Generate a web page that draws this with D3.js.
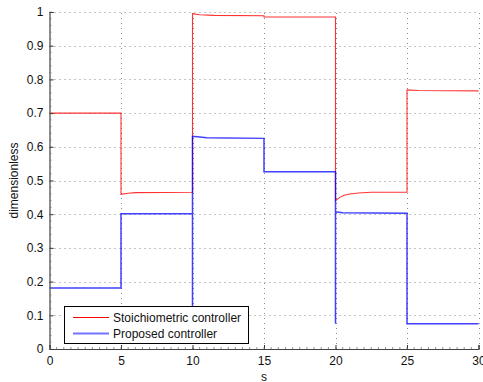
<!DOCTYPE html>
<html>
<head>
<meta charset="utf-8">
<script src="https://cdn.jsdelivr.net/npm/d3@7"></script>
<style>
  html, body { margin: 0; padding: 0; background: #fff; }
  svg { display: block; font-family: "Liberation Sans", Arial, Helvetica, sans-serif; }
</style>
</head>
<body>
<svg id="chart" width="483" height="382"></svg>
<script>
// Controller output over time (s)
const stoichTime  = [0, 5, 5, 5.5, 6, 10, 10, 10.5, 11.5, 15, 15, 20, 20, 20.3, 20.6, 21, 21.6, 22.5, 25, 25, 25.8, 30];
const stoichValue = [0.70, 0.70, 0.459, 0.462, 0.464, 0.465, 0.995, 0.992, 0.990, 0.989, 0.985, 0.985, 0.44, 0.450, 0.456, 0.460, 0.463, 0.465, 0.465, 0.769, 0.767, 0.766];

const proposedTime  = [0, 5, 5, 10, 10, 10, 10.5, 11, 15, 15, 20, 20, 20, 20.5, 25, 25, 30];
const proposedValue = [0.181, 0.181, 0.401, 0.401, 0.07, 0.631, 0.629, 0.627, 0.625, 0.526, 0.526, 0.075, 0.407, 0.404, 0.403, 0.075, 0.075];

const xTicks = [0, 5, 10, 15, 20, 25, 30];
const yTicks = [0, 0.1, 0.2, 0.3, 0.4, 0.5, 0.6, 0.7, 0.8, 0.9, 1];
const seriesNames = ["Stoichiometric controller", "Proposed controller"];

const svg = d3.select("#chart");
const plotLeft = 49.5, plotRight = 478.5, plotTop = 12, plotBottom = 349;

const x = d3.scaleLinear().domain([0, 30]).range([plotLeft, plotRight]);
const y = d3.scaleLinear().domain([0, 1]).range([plotBottom, plotTop]);

// dotted grid
const grid = svg.append("g").attr("stroke", "#8a8a8a").attr("stroke-width", 1)
  .attr("stroke-dasharray", "1,4");
grid.selectAll("line.gx").data(xTicks.slice(1)).join("line")
  .attr("x1", d => Math.round(x(d)) + 0.5).attr("x2", d => Math.round(x(d)) + 0.5)
  .attr("y1", plotBottom).attr("y2", plotTop);
grid.selectAll("line.gy").data(yTicks.slice(1)).join("line")
  .attr("y1", d => Math.round(y(d)) + 0.5).attr("y2", d => Math.round(y(d)) + 0.5)
  .attr("x1", plotLeft).attr("x2", plotRight);

// series
const stoich = stoichTime.map((t, i) => [t, stoichValue[i]]);
const proposed = proposedTime.map((t, i) => [t, proposedValue[i]]);
const line = d3.line().x(d => x(d[0])).y(d => y(d[1]));

svg.append("path").datum(stoich).attr("d", line)
  .attr("fill", "none").attr("stroke", "#ff0000").attr("stroke-width", 1.1)
  .attr("stroke-opacity", 0.8);
svg.append("path").datum(proposed).attr("d", line)
  .attr("fill", "none").attr("stroke", "#0000ff").attr("stroke-width", 1.5)
  .attr("stroke-opacity", 0.75);

// axes (ticks pointing inward)
const xAxis = d3.axisBottom(x).tickValues(xTicks).tickSize(-4).tickPadding(7)
  .tickFormat(d3.format("d"));
const yAxis = d3.axisLeft(y).tickValues(yTicks).tickSize(-4).tickPadding(6)
  .tickFormat(d => d === 0 || d === 1 ? String(d) : d3.format(".1f")(d));

const gx = svg.append("g").attr("transform", `translate(0,${plotBottom})`).call(xAxis);
const gy = svg.append("g").attr("transform", `translate(${plotLeft},0)`).call(yAxis);
[gx, gy].forEach(g => {
  g.select(".domain").attr("stroke", "#444").attr("stroke-width", 1.2);
  g.selectAll(".tick line").attr("stroke", "#333");
  g.selectAll(".tick text").attr("fill", "#111").attr("font-size", 12)
    .attr("font-family", "Liberation Sans, Arial, sans-serif");
});

// minor ticks
const minorX = d3.range(0, 30.001, 0.5);
const minorY = d3.range(0, 1.0001, 0.02);
svg.append("g").attr("stroke", "#777").attr("stroke-width", 0.8)
  .selectAll("line").data(minorX).join("line")
  .attr("x1", d => x(d)).attr("x2", d => x(d)).attr("y1", plotBottom).attr("y2", plotBottom - 2);
svg.append("g").attr("stroke", "#777").attr("stroke-width", 0.8)
  .selectAll("line").data(minorY).join("line")
  .attr("y1", d => y(d)).attr("y2", d => y(d)).attr("x1", plotLeft).attr("x2", plotLeft + 2);

// axis titles
svg.append("text").attr("x", (plotLeft + plotRight) / 2).attr("y", 380.5)
  .attr("text-anchor", "middle").attr("font-size", 12).attr("fill", "#111").text("s");
svg.append("text").attr("transform", `translate(18,${(plotTop + plotBottom) / 2}) rotate(-90)`)
  .attr("text-anchor", "middle").attr("font-size", 12).attr("fill", "#111").text("dimensionless");

// legend
const lg = svg.append("g");
lg.append("rect").attr("x", 64.5).attr("y", 306.5).attr("width", 184).attr("height", 37)
  .attr("fill", "#fff").attr("stroke", "#000").attr("stroke-width", 1);
const legendStyles = [
  { color: "#ff0000", width: 1, opacity: 1 },
  { color: "#0000ff", width: 2, opacity: 0.55 }
];
seriesNames.forEach((name, i) => {
  const yy = 317.5 + i * 16;
  lg.append("line").attr("x1", 73).attr("x2", 109).attr("y1", yy).attr("y2", yy)
    .attr("stroke", legendStyles[i].color).attr("stroke-width", legendStyles[i].width)
    .attr("stroke-opacity", legendStyles[i].opacity);
  lg.append("text").attr("x", 113).attr("y", yy + 4.3).attr("font-size", 12)
    .attr("fill", "#111").text(name);
});
</script>
</body>
</html>
